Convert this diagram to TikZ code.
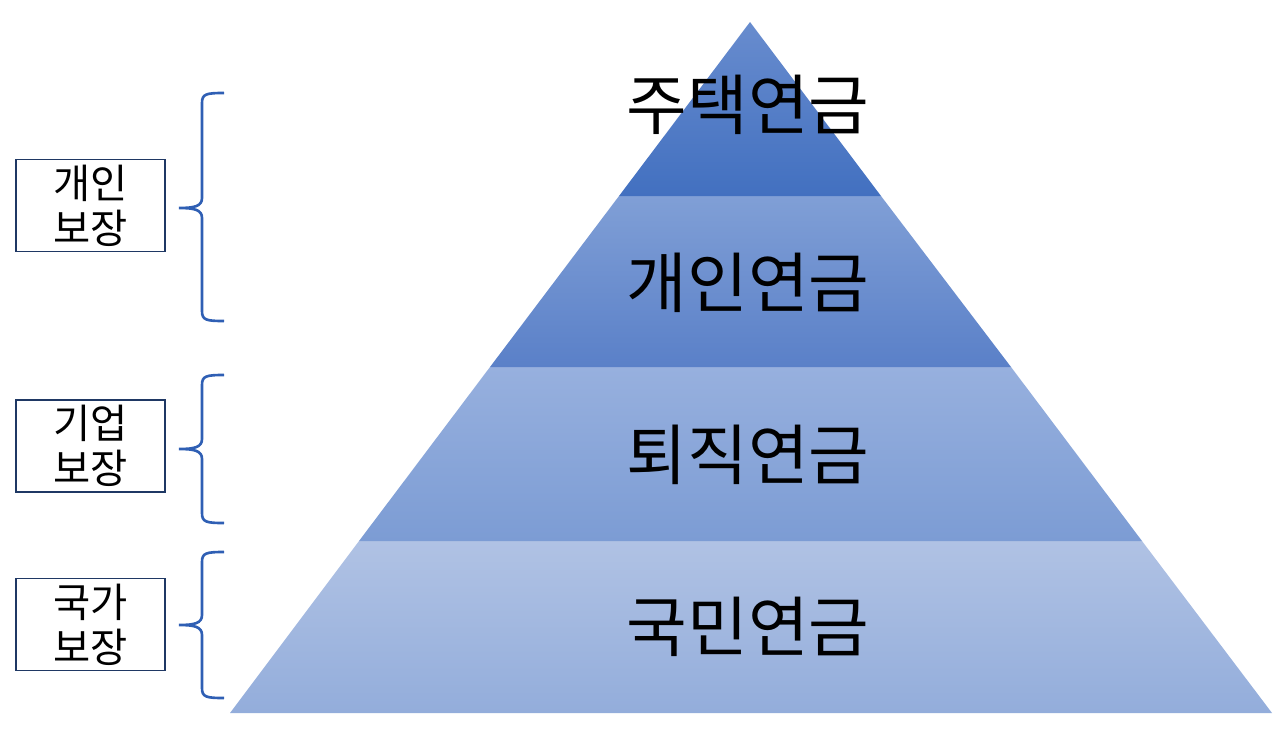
\documentclass[tikz,border=0pt]{standalone}
\usepackage{fontspec}
\setmainfont{Noto Sans CJK KR}
\usepackage{tikz}
\usetikzlibrary{calc}

\definecolor{bracecol}{RGB}{47,95,180}
\definecolor{boxcol}{RGB}{31,56,100}

\begin{document}
\begin{tikzpicture}[x=0.02cm,y=-0.02cm,
	layer/.style={font=\fontsize{37.5}{40}\selectfont},
	side/.style={draw=boxcol,line width=0.8pt,fill=white,minimum width=2.98cm,minimum height=1.84cm,align=center,inner sep=0pt,font=\fontsize{23}{25.5}\selectfont},
	brace/.style={draw=bracecol,line width=1.5pt}]
	\useasboundingbox (0,0) rectangle (1280,730);
	% pyramid layers
	\shade[top color={rgb,255:red,176;green,194;blue,228}, bottom color={rgb,255:red,147;green,173;blue,219}] (230,713) -- (359,541) -- (1142,541) -- (1272,713) -- cycle;
	\shade[top color={rgb,255:red,151;green,176;blue,222}, bottom color={rgb,255:red,124;green,156;blue,212}] (359,541) -- (490,367) -- (1011,367) -- (1142,541) -- cycle;
	\shade[top color={rgb,255:red,128;green,159;blue,214}, bottom color={rgb,255:red,90;green,128;blue,200}] (490,367) -- (619,196) -- (881,196) -- (1011,367) -- cycle;
	\shade[top color={rgb,255:red,104;green,140;blue,206}, bottom color={rgb,255:red,66;green,112;blue,192}] (619,196) -- (750,22) -- (881,196) -- cycle;
	% layer labels
	\node[layer] (jutaek) at (748,105) {주택연금};
	\node[layer] (gaein) at (748,283) {개인연금};
	\node[layer] (toejik) at (748,455) {퇴직연금};
	\node[layer] (gukmin) at (748,627) {국민연금};
	% side boxes
	\node[side] (bgaein) at (90.5,205.5) {개인\\보장};
	\node[side] (bgieop) at (90.5,446) {기업\\보장};
	\node[side] (bgukga) at (90.5,624.5) {국가\\보장};
	% braces
	\foreach \t/\m/\b in {93/208/321, 375/449/523, 552/625/698}{
		\draw[brace] (224,\t) .. controls (206,\t) and (202,\t+1) .. (202,\t+10) -- (202,\m-10)
			.. controls (202,\m-2) and (195,\m) .. (179,\m)
			.. controls (195,\m) and (202,\m+2) .. (202,\m+10) -- (202,\b-10)
			.. controls (202,\b-1) and (206,\b) .. (224,\b);
	}
\end{tikzpicture}
\end{document}
